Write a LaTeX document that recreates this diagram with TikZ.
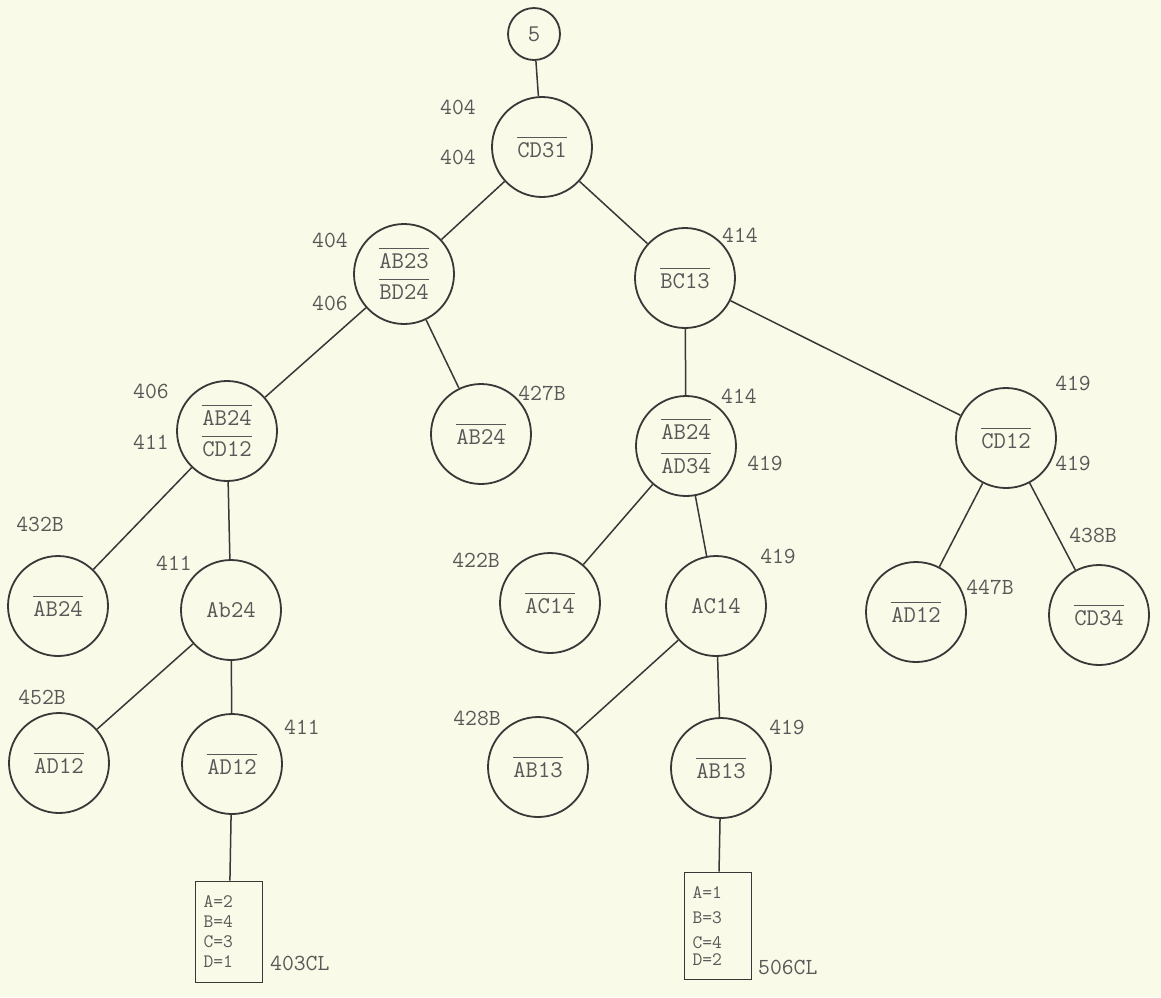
\documentclass[tikz,border=0pt]{standalone}
\usepackage{fontspec}
\usepackage{tikz}
\usetikzlibrary{positioning}
\definecolor{papercream}{HTML}{FAFAE8}
\definecolor{inkgrey}{HTML}{383838}
\definecolor{typegrey}{HTML}{585858}
% negated literal: bar over the text
\newcommand{\negd}[1]{\leavevmode\vbox{\hrule height 1.2pt\kern 4.5pt\hbox{#1}}}
\tikzset{
  knode/.style={
    draw=inkgrey, circle, line width=1.8pt, minimum size=100pt, inner sep=0pt,
    align=center, text=typegrey, font=\ttfamily\fontsize{24}{28}\selectfont,
  },
  topnode/.style={knode, minimum size=52pt},
  result/.style={
    draw=inkgrey, rectangle, line width=1.8pt, inner xsep=8pt, inner ysep=0pt,
    text width=51pt, minimum height=101pt, align=left, text=typegrey,
    font=\ttfamily\fontsize{19}{20}\selectfont,
  },
  num/.style={text=typegrey, inner sep=0pt, font=\ttfamily\fontsize{23}{26}\selectfont},
  link/.style={draw=inkgrey, line width=1.5pt},
}

\begin{document}
\begin{tikzpicture}[x=1pt, y=-1pt]
\useasboundingbox[fill=papercream] (0,0) rectangle (1161,997);

% root
\node[topnode] (five) at (534,34) {5};
\node[knode] (cd31) at (542,147) {\negd{CD31}};
\node[num] (n404a) at (458,107) {404};
\node[num] (n404b) at (458,157) {404};

% second level
\node[knode] (ab23) at (404,274) {\negd{AB23}\\[3pt]\negd{BD24}};
\node[num] (n404c) at (330,240) {404};
\node[num] (n406a) at (330,303) {406};

\node[knode] (bc13) at (685,278) {\negd{BC13}};
\node[num] (n414a) at (740,235) {414};

% third level
\node[knode] (ab24cd) at (227,431) {\negd{AB24}\\[3pt]\negd{CD12}};
\node[num] (n406b) at (151,391) {406};
\node[num] (n411a) at (151,442) {411};

\node[knode] (ab24r) at (481,434) {\negd{AB24}};
\node[num] (n427b) at (542,393) {427B};

\node[knode] (ab24ad) at (686,446) {\negd{AB24}\\[6pt]\negd{AD34}};
\node[num] (n414b) at (739,396) {414};
\node[num] (n419a) at (765,463) {419};

\node[knode] (cd12) at (1006,438) {\negd{CD12}};
\node[num] (n419b) at (1073,383) {419};
\node[num] (n419c) at (1073,463) {419};

% fourth level
\node[knode] (ab24l) at (58,606) {\negd{AB24}};
\node[num] (n432b) at (40,524) {432B};

\node[knode] (ab24m) at (231,610) {Ab24};
\node[num] (n411b) at (174,563) {411};

\node[knode] (ac14l) at (550,603) {\negd{AC14}};
\node[num] (n422b) at (476,560) {422B};

\node[knode] (ac14m) at (716,606) {AC14};
\node[num] (n419d) at (778,556) {419};

\node[knode] (ad12r) at (916,612) {\negd{AD12}};
\node[num] (n447b) at (990,587) {447B};

\node[knode] (cd34) at (1099,615) {\negd{CD34}};
\node[num] (n438b) at (1093,535) {438B};

% fifth level
\node[knode] (ad12l) at (59,763) {\negd{AD12}};
\node[num] (n452b) at (42,697) {452B};

\node[knode] (ad12m) at (232,764) {\negd{AD12}};
\node[num] (n411c) at (302,727) {411};

\node[knode] (ab13l) at (538,767) {\negd{AB13}};
\node[num] (n428b) at (477,718) {428B};

\node[knode] (ab13m) at (721,768) {\negd{AB13}};
\node[num] (n419e) at (787,727) {419};

% solutions
\node[result] (solL) at (229,932) {A=2\\B=4\\C=3\\D=1};
\node[num, anchor=west] (n403cl) at (270,963) {403CL};

\node[result, minimum height=107pt] (solR) at (718,926) {A=1\\[5pt]B=3\\[5pt]C=4\\[-3pt]D=2};
\node[num, anchor=west] (n506cl) at (758,967) {506CL};

% Edges
\draw[link] (five) -- (cd31);
\draw[link] (cd31) -- (ab23);
\draw[link] (cd31) -- (bc13);
\draw[link] (ab23) -- (ab24cd);
\draw[link] (ab23) -- (ab24r);
\draw[link] (bc13) -- (ab24ad);
\draw[link] (bc13) -- (cd12);
\draw[link] (ab24cd) -- (ab24l);
\draw[link] (ab24cd) -- (ab24m);
\draw[link] (ab24m) -- (ad12l);
\draw[link] (ab24m) -- (ad12m);
\draw[link] (ad12m) -- (solL);
\draw[link] (ab24ad) -- (ac14l);
\draw[link] (ab24ad) -- (ac14m);
\draw[link] (ac14m) -- (ab13l);
\draw[link] (ac14m) -- (ab13m);
\draw[link] (ab13m) -- (solR);
\draw[link] (cd12) -- (ad12r);
\draw[link] (cd12) -- (cd34);

\end{tikzpicture}
\end{document}
